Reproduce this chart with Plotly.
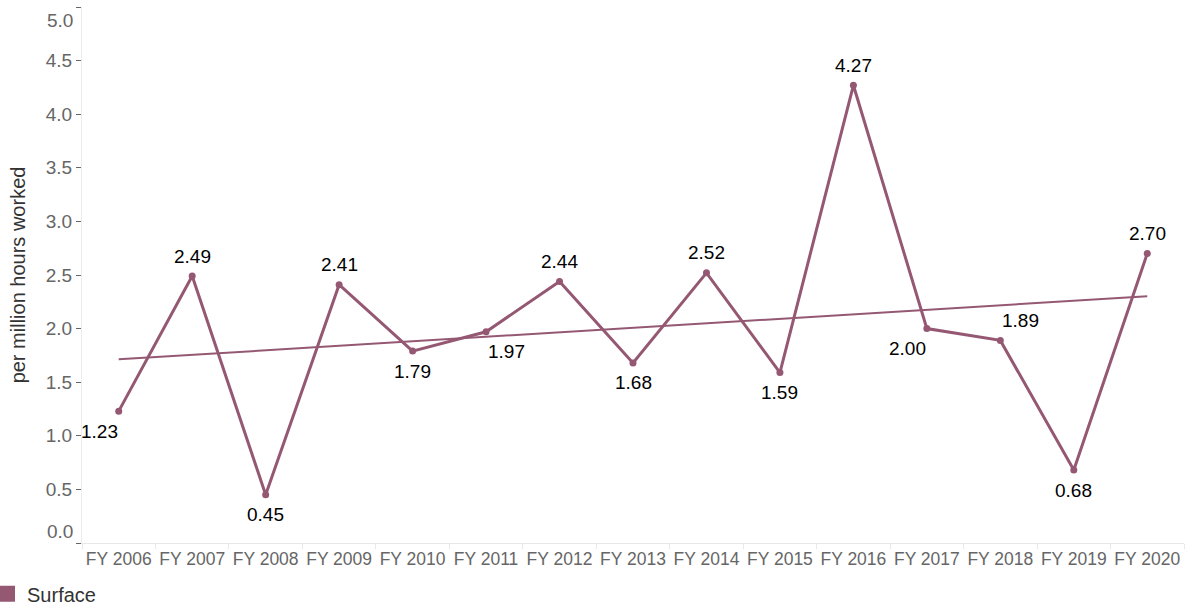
import plotly.graph_objects as go
import numpy as np

categories = ["FY 2006", "FY 2007", "FY 2008", "FY 2009", "FY 2010", "FY 2011", "FY 2012",
              "FY 2013", "FY 2014", "FY 2015", "FY 2016", "FY 2017", "FY 2018", "FY 2019", "FY 2020"]
surface = [1.23, 2.49, 0.45, 2.41, 1.79, 1.97, 2.44, 1.68, 2.52, 1.59, 4.27, 2.00, 1.89, 0.68, 2.70]
label_pos = ["bottom left", "top center", "bottom center", "top center", "bottom center",
             "bottom right", "top center", "bottom center", "top center", "bottom center",
             "top center", "bottom left", "top right", "bottom center", "top center"]
y_ticks = [0, 0.5, 1, 1.5, 2, 2.5, 3, 3.5, 4, 4.5, 5]
y_ticktext = ["", "0.5", "1.0", "1.5", "2.0", "2.5", "3.0", "3.5", "4.0", "4.5", ""]
y_end_ticks = [0, 5]
y_end_text = ["0.0", "5.0"]

COLOR = "#955873"
FONT = "Arial, 'Liberation Sans', sans-serif"

# label offsets (pixels) per placement keyword
V_SHIFT = {"top": 20, "bottom": -20}
H_SHIFT = {"left": -19, "center": 0, "right": 20}

idx = np.arange(len(surface))
slope, intercept = np.polyfit(idx, surface, 1)
trend = intercept + slope * idx

fig = go.Figure()
fig.add_trace(go.Scatter(
    x=categories, y=list(trend), mode="lines",
    line=dict(color=COLOR, width=2), showlegend=False, hoverinfo="skip"))
fig.add_trace(go.Scatter(
    x=categories, y=surface, mode="lines+markers",
    line=dict(color=COLOR, width=3), marker=dict(color=COLOR, size=7),
    showlegend=False, name="Surface", cliponaxis=False))
fig.add_trace(go.Scatter(
    x=[None], y=[None], mode="markers", name="Surface",
    marker=dict(color=COLOR, symbol="square", size=17), showlegend=True))

# value labels
for c, v, pos in zip(categories, surface, label_pos):
    vp, hp = pos.split()
    fig.add_annotation(x=c, y=v, xref="x", yref="y", text=f"{v:.2f}", showarrow=False,
                       xanchor="center", yanchor="middle",
                       xshift=H_SHIFT[hp], yshift=V_SHIFT[vp],
                       font=dict(family=FONT, size=19, color="#000000"))

# end tick labels nudged inside the plot range, as in the original
for v, t, shift in zip(y_end_ticks, y_end_text, [12, -13]):
    fig.add_annotation(x=0, xref="paper", xanchor="right", xshift=-7,
                       y=v, yref="y", yshift=shift, text=t, showarrow=False,
                       font=dict(family=FONT, size=19, color="#666666"))

fig.update_layout(
    width=1186, height=607,
    margin=dict(l=82, r=2, t=7, b=64, autoexpand=False),
    plot_bgcolor="white", paper_bgcolor="white",
    font=dict(family=FONT, size=16, color="#666666"),
    legend=dict(orientation="h", xref="paper", yref="paper",
                x=-0.0862, y=-0.131, xanchor="left", yanchor="bottom",
                font=dict(size=20, color="#333333")),
    xaxis=dict(type="category", range=[-0.5, 14.5], showgrid=False, showline=True,
               linecolor="#e8e8e8", ticks="outside", tickson="boundaries", ticklen=5,
               tickcolor="#e8e8e8", tickangle=0,
               tickfont=dict(size=17.5, color="#666666"), automargin=False),
    yaxis=dict(range=[0, 5], tickvals=y_ticks, ticktext=y_ticktext, showgrid=False,
               zeroline=False, showline=True, linecolor="#ececec",
               ticks="outside", ticklen=5, tickcolor="#666666",
               tickfont=dict(size=19, color="#666666"), automargin=False,
               title=dict(text="per million hours worked", standoff=14,
                          font=dict(size=20, color="#333333"))),
)

fig.write_html("out.html", config={"displayModeBar": False},
               post_script="document.body.style.margin='0';")
